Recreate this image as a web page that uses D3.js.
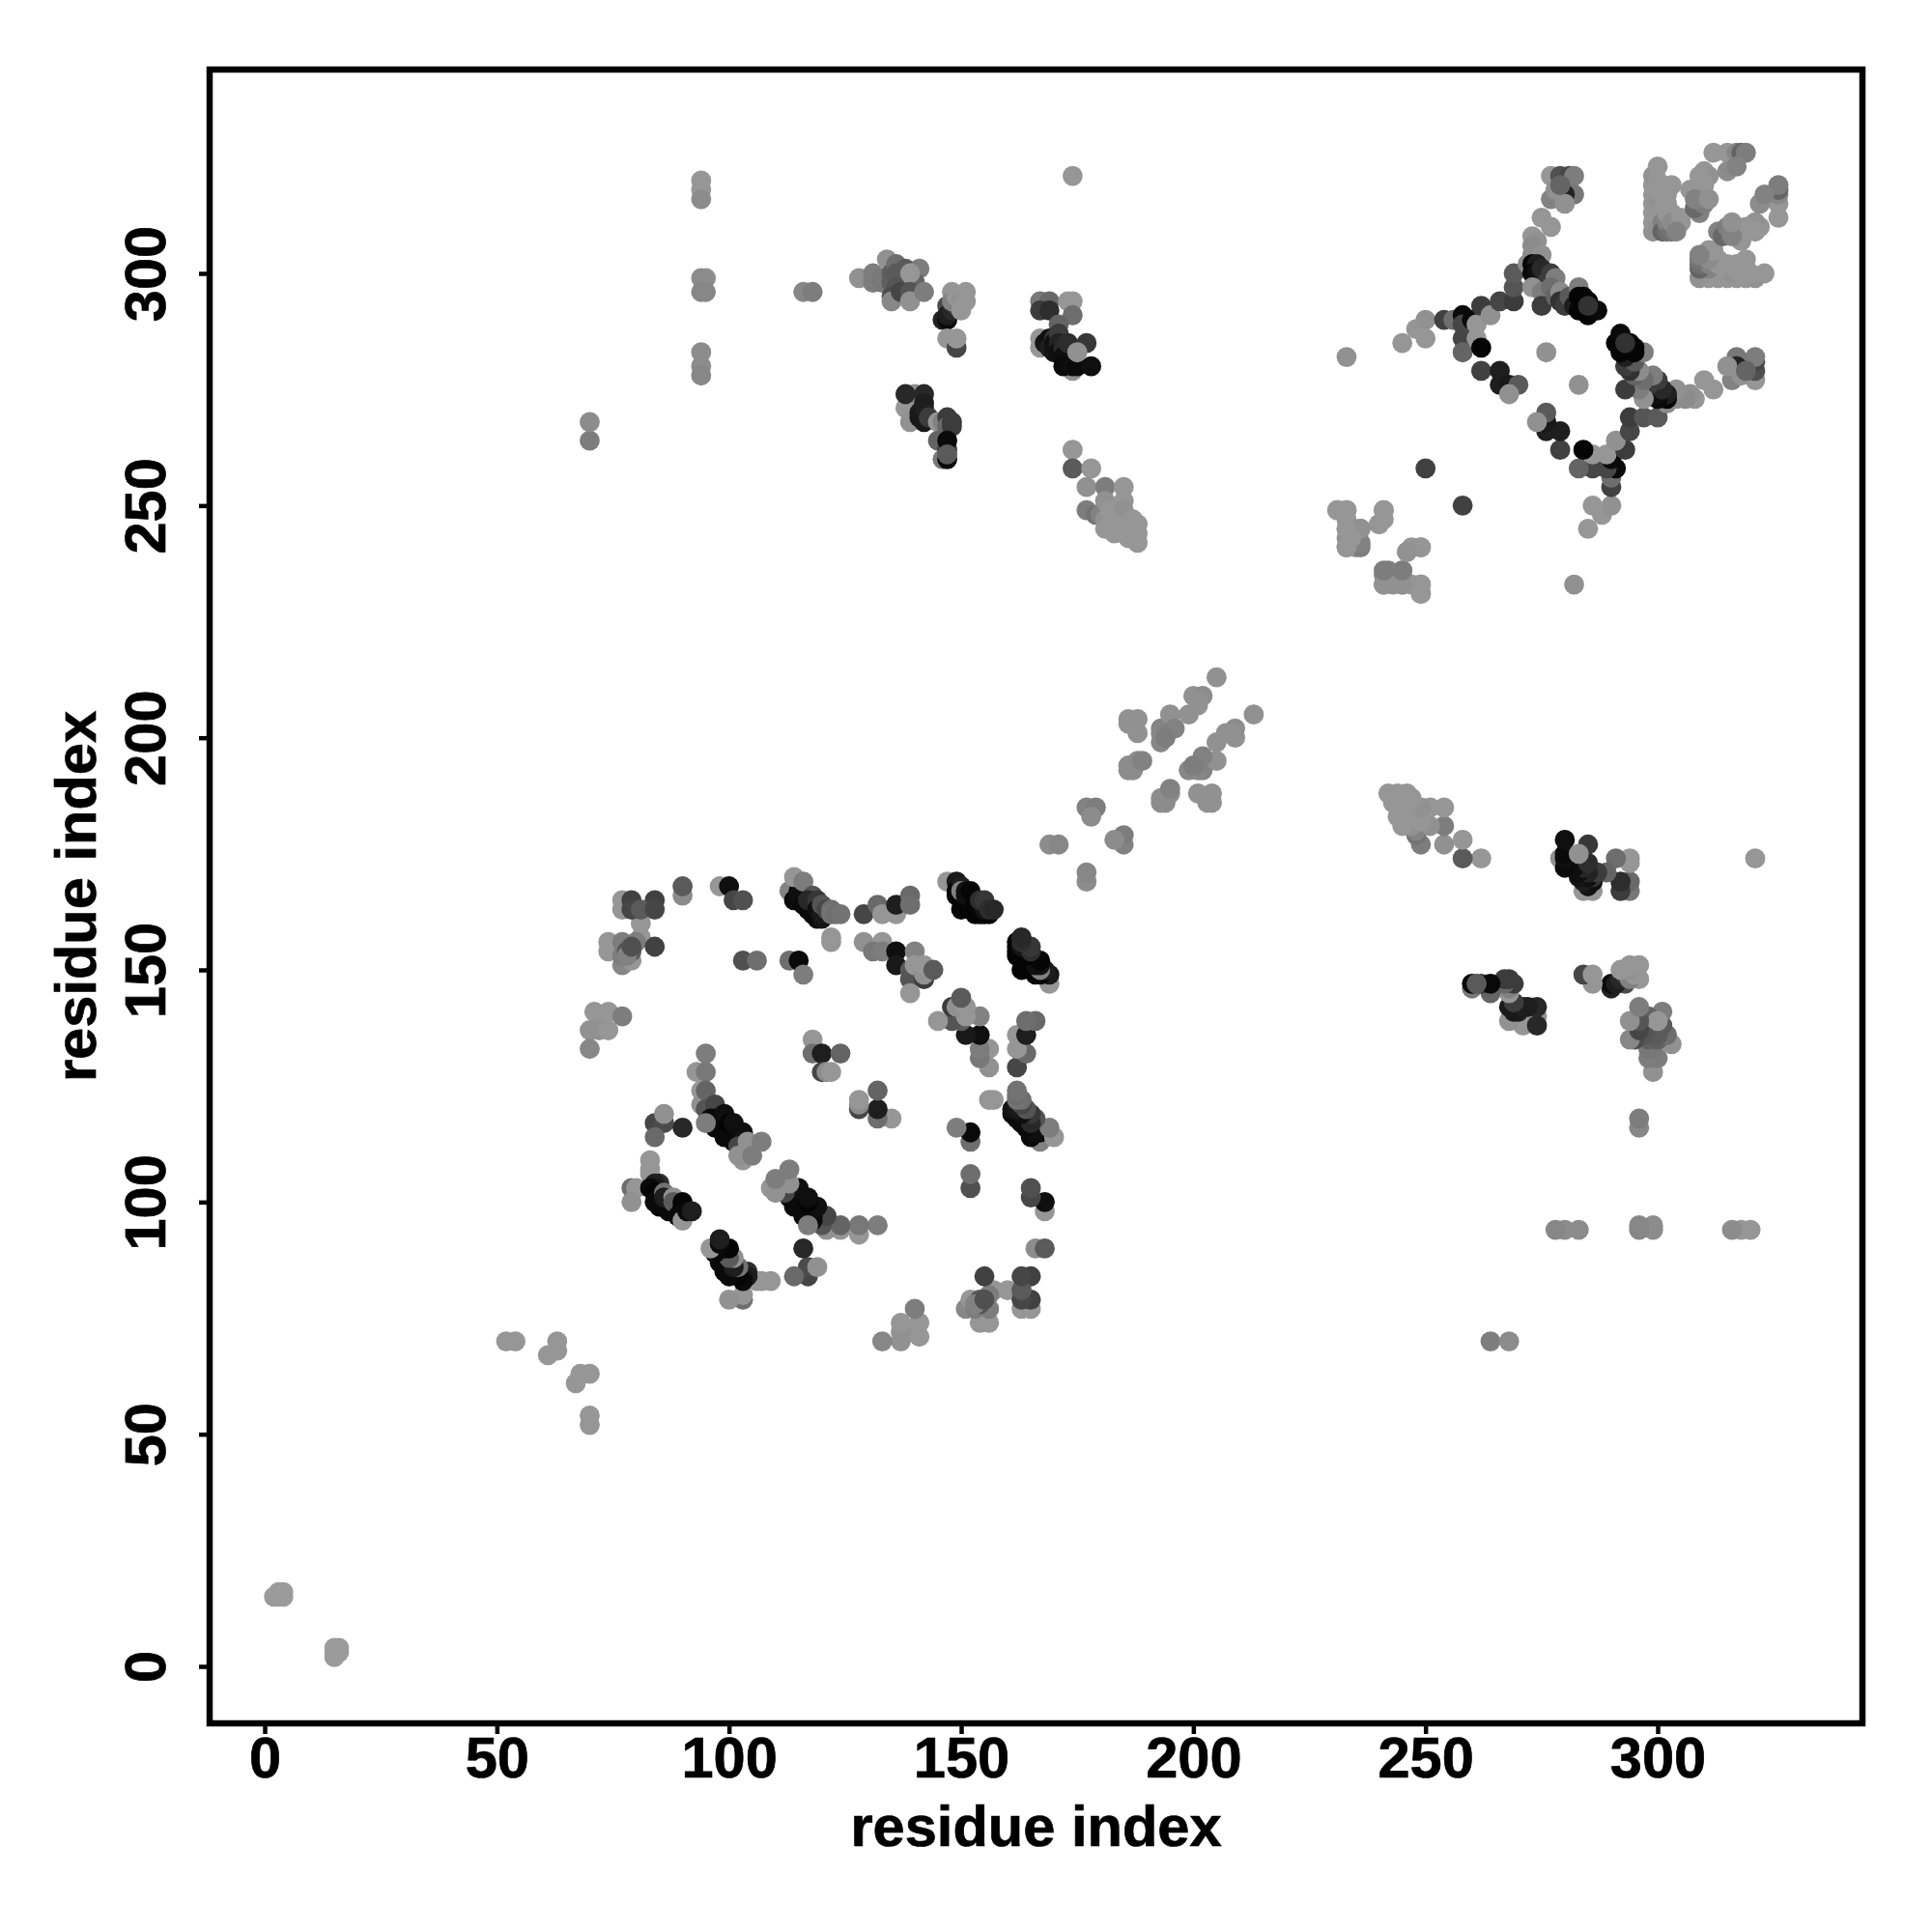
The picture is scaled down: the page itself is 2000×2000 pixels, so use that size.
<!DOCTYPE html>
<html><head><meta charset="utf-8">
<script src="https://cdn.jsdelivr.net/npm/d3@7"></script>
<style>html,body{margin:0;background:#fff}svg{display:block}</style></head>
<body><svg id="c" width="2000" height="2000"></svg>
<script>
// contact pairs: [residue i, residue j, grey level]; each is shown at (i,j) and (j,i)
const terminal = [[2,15,155],[3,15,155],[4,15,155],[3,16,155],[4,16,155]];
const loopContacts = [[52,70,150],[54,70,150],[61,67,150],[63,70,150],[63,68,150],[70,264,125],[70,268,140]];
const column94 = [[94,320,150],[94,318,150],[94,316,140],[94,299,140],[95,299,140],[94,296,135],[95,296,135],[94,283,140],[94,280,140],[94,278,135]];
const clusterA = [[77,165,150],[77,163,150],[81,160,150],[81,157,150],[74,156,150],[74,154,150],[75,155,150],[77,151,135],[79,152,150],[77,156,125],[77,153,125],[80,156,125],[78,154,85],[79,154,90],[78,153,130],[79,165,65],[84,165,65],[79,163,70],[81,163,90],[84,163,70],[79,155,80],[84,155,65],
  [90,166,140],[90,168,90],[98,168,150],[100,168,15],[101,165,70],[103,165,80]];
const strandB = [[113,167,130],[115,167,10],[114,165,10],[115,166,15],[116,164,10],[117,163,10],[118,162,10],[119,161,10],[120,161,20],[114,170,150],[116,169,125],[118,166,85],[117,165,40],[119,165,55],[119,163,15],[120,162,25],[120,164,85],[121,163,70],[122,163,110],[122,162,115],[123,162,110],[124,162,115],
  [129,162,70],[132,164,105],[133,162,150],[136,162,150],[136,164,30],[139,166,105],[139,164,110]];
const strandC = [[147,169,150],[149,169,25],[149,167,5],[149,166,5],[150,165,5],[150,163,5],[151,164,5],[152,163,5],[153,162,5],[154,162,5],[155,162,5],[156,162,5],[150,168,30],[150,167,130],[151,167,20],[151,166,15],[152,167,5],[153,164,5],[155,163,20],[154,165,45],[155,165,55],[156,163,45],[157,163,40]];
const midUpper = [[122,157,150],[122,156,150],[129,156,145],[133,156,150],[131,154,120],[133,154,125],[136,154,15],[136,151,25],[139,150,90],[139,148,85],[142,148,60],[140,154,130],[140,151,150],[142,149,145],[142,151,150],[144,150,90],[139,145,150],
  [103,152,80],[106,152,110],[113,152,110],[115,152,10],[116,149,125]];
const clusterE = [[71,141,150],[74,141,150],[73,140,150],[77,140,125],[70,137,145],[72,137,145],[74,137,150],[70,133,135]];
const midLower = [[118,135,150],[118,132,110],[120,132,30],[124,132,100],[120,128,70],[121,128,140],[122,128,150]];
const strandG = [[95,132,125],[93,128,150],[95,128,120],[94,124,150],[94,121,145],[95,124,100],[95,120,85],[97,121,70],[96,118,10],[97,118,10],[97,116,10],[99,116,10],[99,114,10],[100,114,10],[101,113,10],[102,114,10],[95,117,125],[99,119,15],[100,117,5],[101,117,15],[103,115,15],[103,113,20],[102,112,70],[103,109,150],[104,111,120],[104,113,145],[105,112,145],[102,110,145],[105,110,125],[107,113,125],
  [84,117,70],[86,117,75],[84,114,105],[86,119,145],[90,116,40]];
const strandF = [[83,109,150],[83,107,150],[83,106,150],[79,103,110],[80,103,150],[79,100,145],[85,104,45],[84,104,30],[84,103,25],[83,103,10],[84,102,5],[85,101,5],[85,99,5],[84,100,10],[86,99,10],[87,100,5],[87,98,10],[88,99,10],[89,97,5],[89,99,5],[90,98,5],[86,102,115],[86,101,30],[88,101,145],[88,100,90],[90,100,5],[90,99,5],[89,97,10],[90,96,150],[91,98,10],[92,98,30]];
const upperLeft1 = [[116,296,135],[118,296,125],[128,299,145],[131,300,125],[131,298,125],[133,299,120],[133,298,120],[134,303,145],[135,300,95],[135,298,95],[136,302,110],[136,300,90],[136,297,85],[135,295,75],[135,294,135],[137,296,70],[138,301,90],[141,301,125],[140,298,100],[139,300,150],[139,296,85],[139,294,145],[142,296,125]];
const upperLeft2 = [[147,293,75],[146,290,35],[147,290,10],[147,291,30],[148,292,40],[149,293,60],[148,296,150],[148,294,130],[149,295,150],[150,294,145],[151,296,150],[151,294,150],[150,292,150],[147,286,150],[149,284,70],[149,286,150]];
const upperLeft3 = [[167,294,120],[169,294,105],[167,292,60],[169,292,45],[173,294,150],[174,294,150],[174,291,110],[171,289,100],[167,286,150],[167,284,150],[168,285,20],[169,286,15],[169,284,30],[170,286,50],[170,285,15],[170,283,20],[171,287,60],[171,285,35],[171,283,15],[172,284,40],[172,282,15],[173,281,10],[173,283,15],[173,285,45],[177,285,55],[174,279,145],[172,280,10],[174,280,15],[175,280,10],[178,280,15],[175,283,145]];
const upperLeft4 = [[138,271,150],[139,268,145],[140,274,145],[138,274,40],[142,274,40],[141,270,30],[141,269,25],[142,272,30],[142,271,30],[142,268,25],[143,269,60],[145,268,150],[146,268,130],[147,269,60],[147,267,105],[148,268,60],[148,267,60],[145,264,100],[146,260,120],[147,260,10],[147,262,60],[147,264,10],[147,261,90]];
const upperLeft5 = [[174,262,150],[174,258,90],[178,258,150],[177,254,145],[181,254,125],[185,254,150],[177,249,125],[179,248,115],[180,248,130],[181,251,145],[183,248,145],[181,247,145],[182,249,150],[182,245,150],[184,247,150],[184,245,150],[185,251,150],[185,249,145],[181,245,150],[183,244,150],[185,244,150],[186,246,150],[187,247,150],[187,245,150],[187,243,150],[188,246,150],[186,243,150],[183,246,150],[188,242,150],[188,244,150]];
const farDiag = [[169,177,140],[171,177,135],[177,185,130],[179,185,125],[178,183,140],
  [186,204,145],[186,203,145],[188,204,145],[188,201,145],[186,194,140],[188,195,140],[186,193,140],[187,193,140],[187,194,140],[189,195,130],[193,202,130],[193,199,135],[193,201,135],[194,201,130],[195,205,145],[196,202,130],[194,200,125],[199,205,145],[201,207,145],[200,209,145],[202,209,140],[201,208,145],[205,213,145],[174,321,150]];
const lowerDomain = [[231,249,150],[233,249,150],[233,247,150],[233,245,145],[233,243,145],[233,241,145],[235,241,145],[236,245,125],[236,241,125],[241,249,150],[240,246,145],[246,240,150],[247,241,150],[249,241,150],[242,236,130],[245,236,145],[241,233,150],[243,234,150],[245,233,150],[249,233,150],[249,231,150],[250,258,65],
  [233,282,145],[245,285,150],[248,288,150],[250,290,145],[250,286,150]];
const diamondNW = [[254,290,65],[256,290,110],[258,291,10],[258,289,70],[260,290,10],[261,289,150],[262,293,60],[264,291,145],[266,294,70],[269,294,60],[269,297,85],[269,300,90],[258,286,70],[258,283,100],[261,286,150],[262,284,5],
  [262,279,65],[266,279,30],[266,276,30],[268,276,25],[270,276,90],[268,274,145],[276,283,145]];
const diamondNE = [[277,321,150],[279,321,80],[281,321,70],[282,321,125],[282,317,120],[280,317,35],[277,316,130],[280,315,145],[278,318,145],[279,319,100],
  [275,312,150],[277,310,150],[273,308,150],[274,307,145],[273,306,140],[273,304,140],[275,304,145],[272,302,140],[273,302,5],[274,302,30],[273,300,10],[274,300,15],[275,301,40],[277,300,60],[276,298,60],[278,299,125],[273,297,145],[275,296,125],[277,297,110],[275,293,60],[278,295,100],[279,296,140],[279,294,50],[280,293,60],[281,295,90],[283,297,125],[282,293,30],[285,294,5],[283,292,5],[284,292,5],[285,291,5],[283,295,5],[284,295,5],[286,292,5],[287,292,10],[285,293,50]];
const blockA = [[299,309,145],[299,311,150],[299,313,150],[299,315,150],[299,317,150],[299,319,150],[299,321,145],[300,310,145],[300,312,150],[300,314,150],[300,316,145],[300,318,150],[300,320,150],[300,323,150],[301,319,150],[303,319,150],[301,315,145],[301,317,150],[301,313,150],[301,311,130],[301,309,100],[302,309,110],[302,311,130],[302,313,150],[302,315,150],[302,317,150],[303,313,150],[303,309,115],[303,311,140],[304,311,140],[305,311,150],[305,312,150],[304,309,130]];
const blockB = [[307,318,150],[309,313,130],[309,315,110],[308,314,105],[309,316,120],[310,315,125],[308,318,150],[310,322,150],[311,321,145],[310,319,150],[312,326,150],[315,326,150],[317,326,135],[318,326,100],[319,326,125],[315,322,140],[317,323,130],[309,321,150],[308,316,130],[311,316,145]];

const contacts = [terminal,loopContacts,column94,clusterA,strandB,strandC,midUpper,clusterE,midLower,strandG,strandF,upperLeft1,upperLeft2,upperLeft3,upperLeft4,upperLeft5,farDiag,lowerDomain,diamondNW,diamondNE,blockA,blockB].flat();
const axisTicks = [0,50,100,150,200,250,300];
const axisTitle = "residue index";

const left=217,right=1928,top_=72,bottom=1784;
const x=d3.scaleLinear().domain([-11.86,344.1]).range([left,right]);
const y=d3.scaleLinear().domain([-12.27,343.9]).range([bottom,top_]);
const svg=d3.select("#c");
const font='"Liberation Sans",Arial,sans-serif';

const all=contacts.map(d=>({a:d[0],b:d[1],g:d[2]})).concat(contacts.map(d=>({a:d[1],b:d[0],g:d[2]})));
svg.append("g").selectAll("circle").data(all).join("circle")
  .attr("cx",d=>x(d.a)).attr("cy",d=>y(d.b)).attr("r",10.4)
  .attr("fill",d=>d3.rgb(d.g,d.g,d.g).formatHex());

const gx=svg.append("g").attr("transform",`translate(0,${bottom})`)
  .call(d3.axisBottom(x).tickValues(axisTicks).tickFormat(d3.format("d")).tickSize(11).tickPadding(9));
const gy=svg.append("g").attr("transform",`translate(${left},0)`)
  .call(d3.axisLeft(y).tickValues(axisTicks).tickFormat(d3.format("d")).tickSize(11).tickPadding(0));
const textStyle=s=>s.attr("font-family",font).attr("font-weight","bold").attr("font-size",59.6).attr("fill","#000").attr("stroke","#000").attr("stroke-width",0.7);
[gx,gy].forEach(g=>{
  g.select(".domain").remove();
  g.selectAll("line").attr("stroke","#000").attr("stroke-width",4.5);
  g.selectAll("text").call(textStyle);
});
gx.selectAll("text").attr("y",1840-bottom).attr("dy",0).attr("text-anchor","middle");
gy.selectAll("text").each(function(){
  d3.select(this).attr("x",null).attr("dy",0).attr("text-anchor","middle")
    .attr("transform",`translate(${171-left},0) rotate(-90)`);
});
svg.append("rect").attr("x",left).attr("y",top_).attr("width",right-left).attr("height",bottom-top_)
  .attr("fill","none").attr("stroke","#000").attr("stroke-width",6.5);
svg.append("text").text(axisTitle).attr("x",(left+right)/2).attr("y",1911).attr("text-anchor","middle").call(textStyle);
svg.append("text").text(axisTitle).attr("transform",`translate(99,${(top_+bottom)/2}) rotate(-90)`).attr("text-anchor","middle").call(textStyle);
</script></body></html>
